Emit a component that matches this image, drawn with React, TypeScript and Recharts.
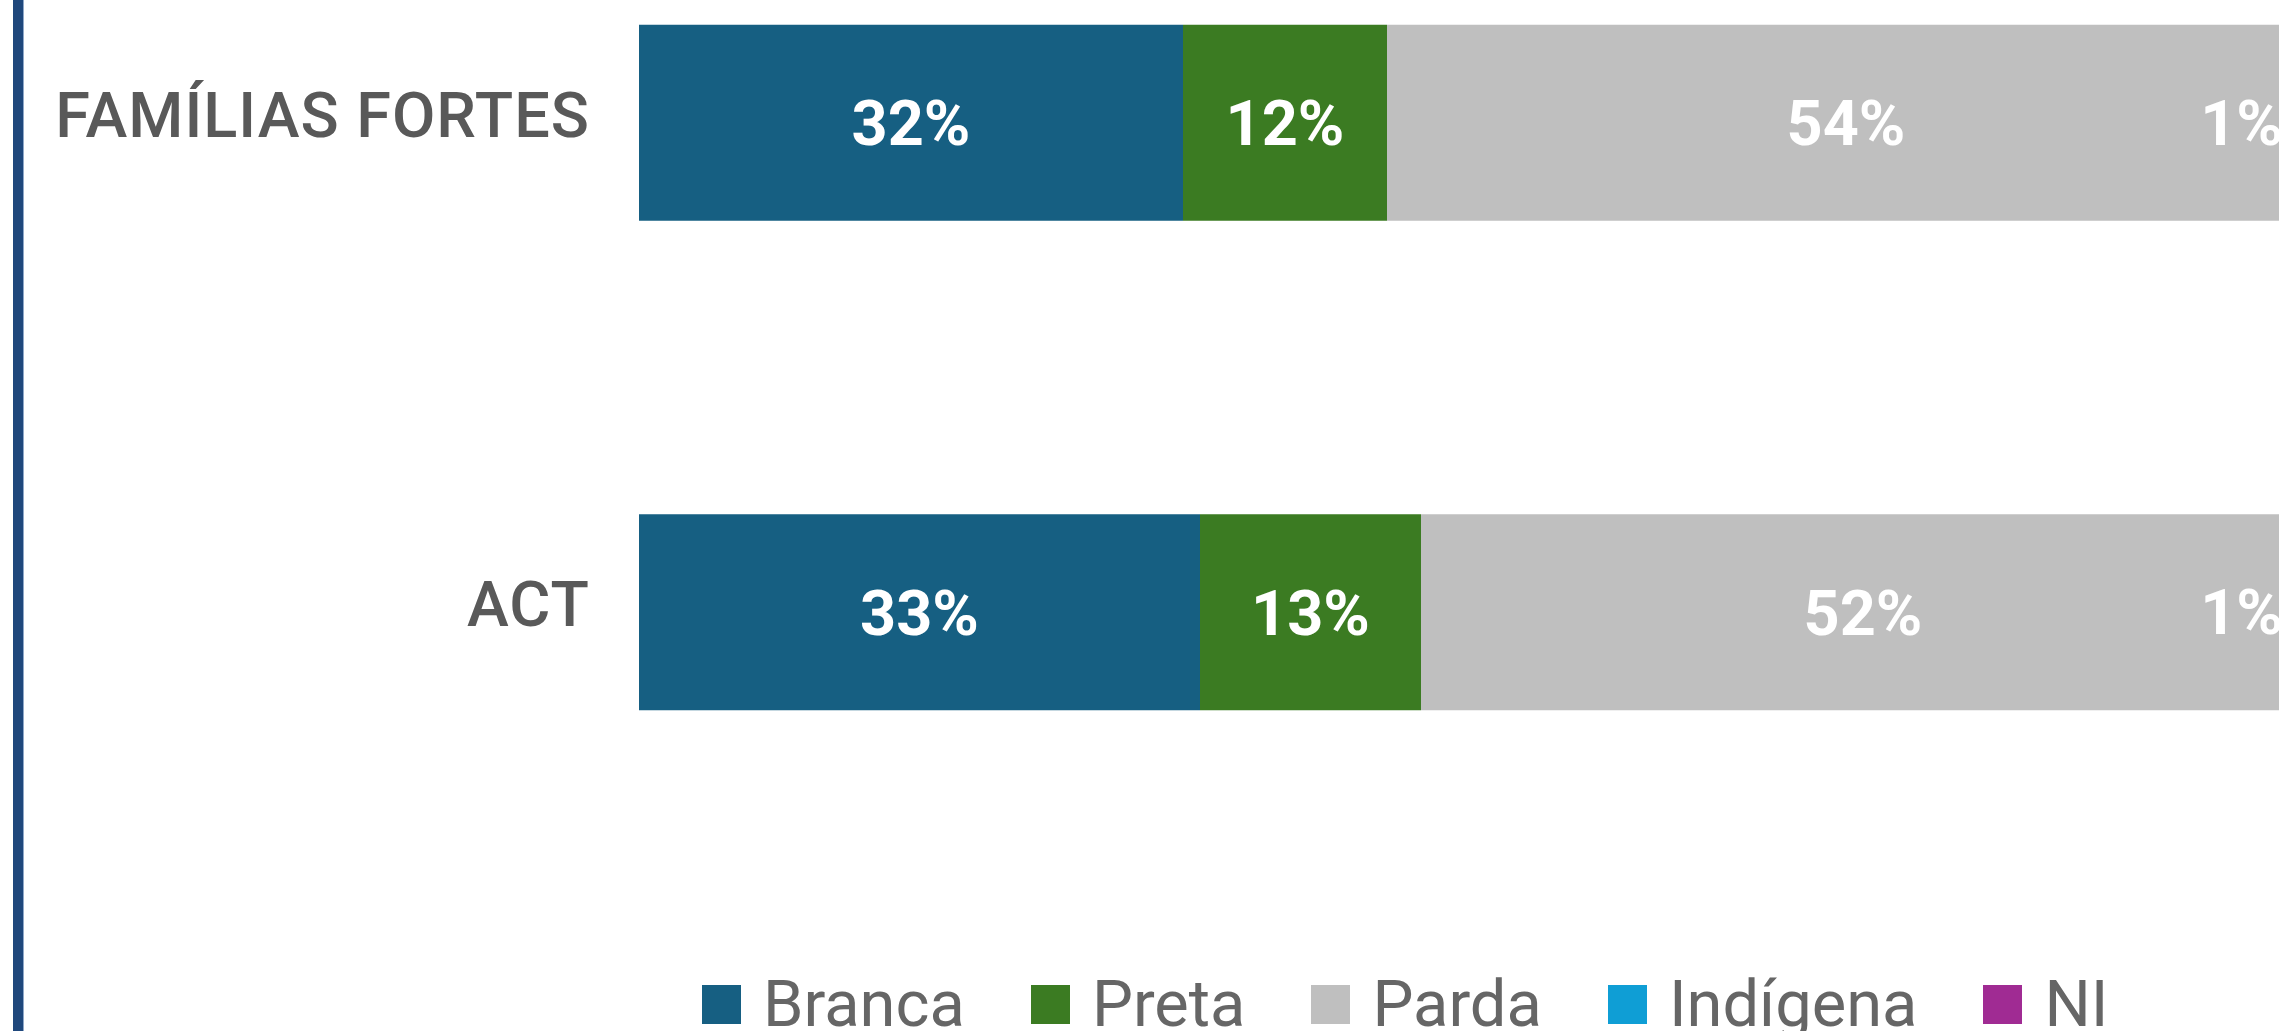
import { BarChart, Bar, XAxis, YAxis, Legend, LabelList } from "recharts";

const categories = ["FAMÍLIAS FORTES", "ACT"];
const branca = [32, 33];
const preta = [12, 13];
const parda = [54, 52];
const indigena = [1, 1];
const ni = [1, 1];

const seriesNames = ["Branca", "Preta", "Parda", "Indígena", "NI"];
const seriesColors = ["#165F82", "#3B7B22", "#BFBFBF", "#0F9ED5", "#A02B93"];

const data = categories.map((name, i) => ({
  name,
  Branca: branca[i],
  Preta: preta[i],
  Parda: parda[i],
  Indígena: indigena[i],
  NI: ni[i],
}));

const FONT = "Roboto, 'Noto Sans', sans-serif";
const pct = (v: any) => `${v}%`;

function CategoryTick({ x, y, payload }: any) {
  return (
    <text
      x={x}
      y={y}
      dy={14}
      textAnchor="end"
      fill="#595959"
      fontFamily={FONT}
      fontSize={63}
      fontWeight={500}
      letterSpacing={1}
    >
      {payload.value}
    </text>
  );
}

// the small segment's label sits left of its (thin) segment in the source
function SmallLabel({ x, y, width, height, value }: any) {
  return (
    <text
      x={x + width / 2 - 72}
      y={y + height / 2}
      dy={22}
      textAnchor="middle"
      fill="#ffffff"
      fontFamily={FONT}
      fontSize={63}
      fontWeight={700}
    >
      {pct(value)}
    </text>
  );
}

function LegendRow({ payload }: any) {
  const items = [...(payload || [])].sort(
    (a: any, b: any) => seriesNames.indexOf(a.value) - seriesNames.indexOf(b.value)
  );
  return (
    <div style={{ display: "flex", alignItems: "center", fontFamily: FONT }}>
      {items.map((entry: any) => (
        <div
          key={entry.value}
          style={{ display: "flex", alignItems: "center", marginRight: 66 }}
        >
          <span
            style={{
              width: 39,
              height: 39,
              backgroundColor: entry.color,
              marginRight: 22,
              display: "inline-block",
            }}
          />
          <span style={{ fontSize: 65, lineHeight: 1, color: "#666666" }}>{entry.value}</span>
        </div>
      ))}
    </div>
  );
}

const labelStyle = { fill: "#ffffff", fontFamily: FONT, fontSize: 63, fontWeight: 700 };

export default function App() {
  return (
    <div
      style={{
        position: "absolute",
        top: 0,
        left: 0,
        width: 2279,
        height: 1031,
        overflow: "hidden",
        background: "#ffffff",
      }}
    >
      <div
        style={{
          position: "absolute",
          left: 13,
          top: 0,
          width: 10,
          height: 1031,
          backgroundColor: "#1F487C",
          borderRight: "1px solid #8FA8C8",
        }}
      />
      <div style={{ position: "absolute", left: 0, top: -122 }}>
        <BarChart
          width={2339}
          height={1179}
          data={data}
          layout="vertical"
          barCategoryGap="30%"
          margin={{ top: 0, right: 0, bottom: 200, left: 0 }}
        >
          <XAxis type="number" domain={[0, 100]} hide />
          <YAxis
            type="category"
            dataKey="name"
            width={639}
            axisLine={false}
            tickLine={false}
            tickSize={0}
            tickMargin={49}
            tick={<CategoryTick />}
          />
          <Legend
            layout="horizontal"
            verticalAlign="middle"
            align="center"
            content={<LegendRow />}
            wrapperStyle={{ position: "absolute", left: 702, top: 1094, width: 1600, height: 64 }}
          />
          {seriesNames.map((s, i) => (
            <Bar
              key={s}
              dataKey={s}
              stackId="a"
              fill={seriesColors[i]}
              isAnimationActive={false}
            >
              {s === "Indígena" ? (
                <LabelList dataKey={s} content={<SmallLabel />} />
              ) : (
                <LabelList dataKey={s} position="center" formatter={pct} style={labelStyle} />
              )}
            </Bar>
          ))}
        </BarChart>
      </div>
    </div>
  );
}
